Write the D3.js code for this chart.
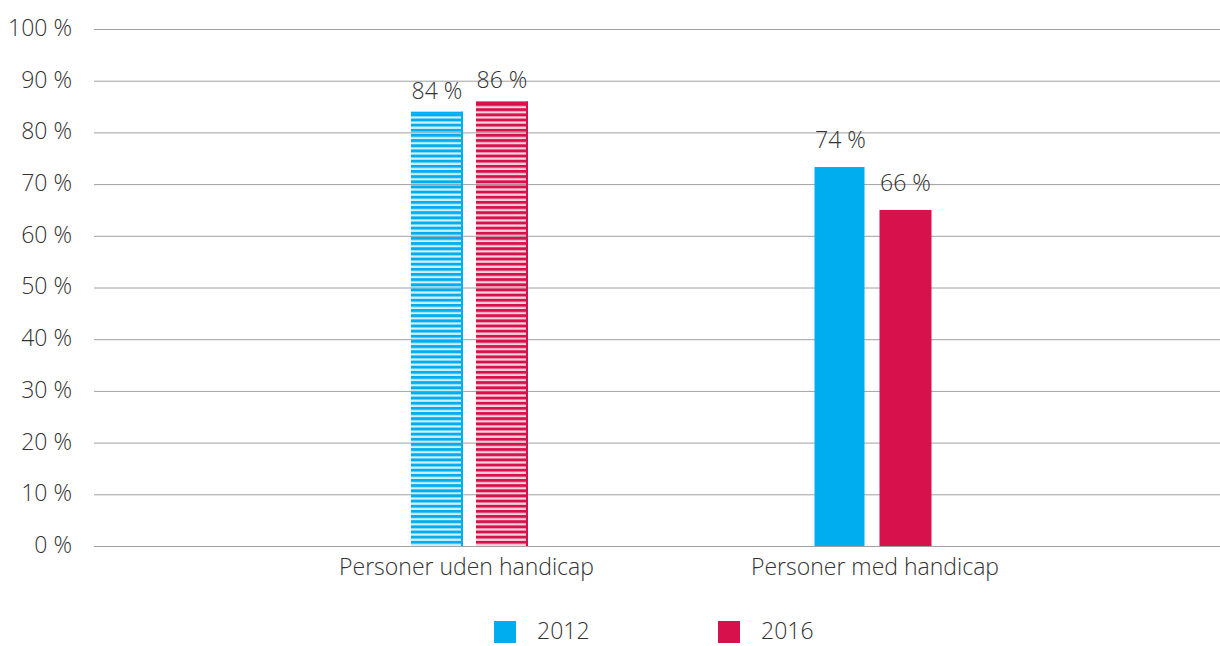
<!DOCTYPE html>
<html><head><meta charset="utf-8">
<script src="https://cdn.jsdelivr.net/npm/d3@7"></script>
<style>
html,body{margin:0;padding:0;background:#fff;}
text{font-family:"Open Sans",sans-serif;fill:#333;font-weight:350;}
</style></head>
<body><svg id="c" width="1220" height="646"></svg>
<script>
const categories = ["Personer uden handicap", "Personer med handicap"];
const seriesNames = ["2012", "2016"];
const values2012 = [84, 73.3];
const values2016 = [86, 65.0];
const labels2012 = ["84 %", "74 %"];
const labels2016 = ["86 %", "66 %"];
const yTicks = [0,10,20,30,40,50,60,70,80,90,100];
const colors = ["#00adee", "#d7114b"];

(function(){
const svg = d3.select("#c");
const mLeft = 94, mRight = 1220, mTop = 29, mBottom = 546;
const fs = "23px";
const y = d3.scaleLinear().domain([0,100]).range([mBottom, mTop]);
const x = d3.scaleBand().domain(categories).range([267.75, 1074.75]);
const xs = d3.scaleBand().domain(seriesNames).range([0, 117]).paddingInner(0.2);

// patterns
const defs = svg.append("defs");
colors.forEach((c,i)=>{
  const p = defs.append("pattern").attr("id","hatch"+i).attr("patternUnits","userSpaceOnUse")
    .attr("width",10).attr("height",5.15).attr("y", mBottom);
  p.append("rect").attr("width",10).attr("height",5.15).attr("fill",c).attr("opacity",0.18);
  p.append("rect").attr("y",0).attr("width",10).attr("height",2.9).attr("fill",c);
});

// grid
const ya = svg.append("g").attr("transform",`translate(${mLeft},0)`)
  .call(d3.axisLeft(y).tickValues(yTicks).tickSize(-(mRight-mLeft)).tickFormat(d=>d+" %"));
ya.select(".domain").remove();
ya.selectAll(".tick line").attr("stroke","#a0a0a0").attr("stroke-width",1);
ya.selectAll(".tick text").attr("x",-22).attr("dy","0.28em").style("font-size",fs).attr("fill","#333")
  .style("font-family","'Open Sans',sans-serif");

// category axis labels
const xa = svg.append("g").attr("transform",`translate(0,${mBottom})`)
  .call(d3.axisBottom(x).tickSize(0).tickPadding(13));
xa.select(".domain").remove();
xa.selectAll(".tick text").style("font-size",fs).attr("fill","#333").attr("dy","0.68em")
  .style("font-family","'Open Sans',sans-serif")
  .attr("transform", (d,i)=>`translate(${i===0? -3 : 2},0)`);

const bw = 52;
const series = [values2012, values2016];
const labs = [labels2012, labels2016];
categories.forEach((cat,ci)=>{
  const cx = x(cat) + x.bandwidth()/2;
  const g0 = cx - 117/2;
  seriesNames.forEach((s,si)=>{
    const v = series[si][ci];
    const bx = g0 + xs(s);
    const by = y(v), bh = y(0)-y(v);
    if (ci===0){
      svg.append("rect").attr("x",bx).attr("y",by).attr("width",bw).attr("height",bh)
        .attr("fill",`url(#hatch${si})`);
      svg.append("line").attr("x1",bx+bw-1).attr("x2",bx+bw-1).attr("y1",by).attr("y2",y(0))
        .attr("stroke",colors[si]).attr("stroke-width",2);
      svg.append("line").attr("x1",bx).attr("x2",bx+bw).attr("y1",by+1).attr("y2",by+1)
        .attr("stroke",colors[si]).attr("stroke-width",2);
    } else {
      svg.append("rect").attr("x",bx).attr("y",by).attr("width",bw-(si===0?2:0)).attr("height",bh)
        .attr("fill",colors[si]);
    }
    svg.append("text").attr("x",bx+bw/2).attr("y",by-(ci===0?13:19)).attr("text-anchor","middle")
      .style("font-size",fs).text(labs[si][ci]);
  });
});

// legend
const legX = [494, 718];
seriesNames.forEach((s,i)=>{
  svg.append("rect").attr("x",legX[i]).attr("y",621).attr("width",22).attr("height",22).attr("fill",colors[i]);
  svg.append("text").attr("x",legX[i]+43).attr("y",639).style("font-size",fs).text(s);
});
})();
</script></body></html>
